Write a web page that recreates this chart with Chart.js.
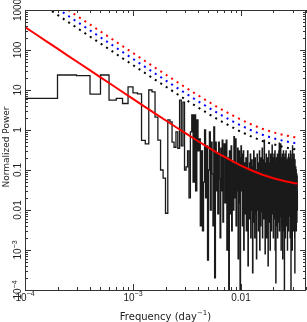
<!DOCTYPE html>
<html><head><meta charset="utf-8">
<script src="https://cdn.jsdelivr.net/npm/chart.js@4"></script>
<style>html,body{margin:0;padding:0;background:#fff;overflow:hidden}#wrap{width:307px;height:322px}canvas{display:block}</style>
</head><body>
<div id="wrap"><canvas id="c" width="307" height="322"></canvas></div>
<script>
// frequency resolution of the periodogram (day^-1); bin k starts at k*binWidth
const binWidth = 1e-4;
// periodogram power, bins k = 1..333
const power = [
6.2, 23.7, 23, 7.9, 23.7, 5.6, 6.2, 4.6, 12, 8.5,
8, 0.55, 0.45, 10, 9, 2.1, 0.56, 0.1, 0.063, 0.0083,
1.8, 1.6, 0.5, 0.37, 0.9, 0.35, 5.6, 0.4, 5, 0.1,
0.12, 0.3, 0.02, 0.9, 2.4, 0.05, 2.4, 0.03, 1.8, 0.3,
0.6, 0.004, 0.3, 0.003, 0.05, 1.0, 0.02, 0.4, 5.6e-4, 0.1,
0.9, 0.01, 0.5, 0.08, 0.004, 1.2, 2e-4, 0.5, 0.03, 0.25,
0.008, 0.5, 0.06, 0.002, 0.35, 0.03, 0.56, 0.005, 0.2, 0.45,
0.015, 0.15, 0.56, 0.001, 0.2, 0.04, 1e-4, 0.3, 0.008, 0.1,
0.4, 0.003, 0.15, 0.05, 0.01, 0.68, 0.02, 0.25, 0.6, 0.004,
0.15, 0.03, 0.35, 6e-4, 0.1, 0.3, 0.015, 1e-4, 0.2, 0.4,
0.03, 0.25, 0.004, 0.08, 0.3, 0.001, 0.05, 0.15, 0.008, 0.02,
0.2, 0.003, 0.06, 0.012, 0.3, 4e-4, 0.04, 0.1, 0.006, 0.15,
0.02, 0.25, 0.002, 0.07, 0.01, 0.18, 0.03, 2.7e-4, 0.12, 0.005,
0.3, 0.015, 0.06, 0.002, 0.2, 0.04, 0.008, 0.1, 6e-4, 0.05,
0.25, 0.01, 0.03, 0.15, 0.003, 0.08, 0.02, 0.3, 0.001, 0.06,
0.12, 0.004, 0.2, 0.025, 0.05, 0.009, 0.35, 0.002, 0.1, 0.015,
0.04, 0.18, 0.006, 0.56, 0.02, 0.07, 8e-4, 0.15, 0.03, 0.01,
0.25, 0.002, 0.05, 0.12, 0.007, 0.2, 0.03, 4e-4, 0.09, 0.015,
0.3, 0.005, 0.06, 0.02, 0.15, 0.001, 0.04, 0.25, 0.01, 0.08,
0.003, 0.18, 0.03, 0.42, 0.008, 0.06, 0.015, 0.2, 0.002, 0.1,
0.04, 0.25, 0.006, 0.12, 0.02, 0.3, 0.001, 0.07, 0.01, 1.5e-4,
0.15, 0.03, 0.2, 0.004, 0.06, 0.012, 0.25, 0.002, 0.08, 0.025,
0.18, 0.005, 0.04, 0.3, 0.01, 0.47, 0.003, 0.09, 0.4, 0.02,
0.12, 0.007, 0.45, 0.03, 0.001, 0.15, 0.05, 0.015, 0.2, 0.004,
0.08, 0.25, 6e-4, 0.04, 0.12, 0.01, 0.3, 0.02, 0.06, 0.003,
0.15, 9e-5, 0.2, 0.008, 0.05, 0.25, 0.002, 0.1, 0.03, 0.012,
0.3, 0.004, 0.06, 0.02, 0.18, 0.006, 0.1, 0.04, 0.001, 0.15,
0.025, 0.2, 0.005, 0.08, 0.003, 0.25, 0.015, 0.12, 0.04, 0.007,
0.2, 0.01, 0.05, 0.15, 0.002, 0.09, 0.3, 0.008, 0.06, 9e-5,
0.12, 0.02, 0.07, 0.004, 0.18, 0.03, 0.25, 0.001, 0.05, 0.4,
0.015, 0.1, 0.006, 0.2, 0.04, 0.003, 0.15, 0.012, 0.08, 0.25,
0.01, 0.05, 0.12, 0.002, 2.7e-4, 0.18, 0.02, 0.09, 0.006, 0.04,
0.12, 0.008, 0.06, 0.1, 0.003, 0.05, 0.015, 0.08, 0.005, 0.04, 0.07, 0.01, 0.03
];
// red-noise model curve (solid red) and significance levels (dotted)
const modelFreq = [1e-4,1.26e-4,1.58e-4,2e-4,2.51e-4,3.16e-4,3.98e-4,5.01e-4,6.31e-4,7.94e-4,1e-3,1.26e-3,1.58e-3,2e-3,2.51e-3,3.16e-3,3.98e-3,5.01e-3,6.31e-3,7.94e-3,0.01,0.0126,0.0158,0.02,0.0251,0.0316,0.0334];
const modelPower = [376,248,164,108,71.6,47.3,31.3,20.7,13.7,9.05,6.0,3.97,2.64,1.75,1.17,0.785,0.53,0.362,0.251,0.178,0.129,0.0974,0.0762,0.0622,0.053,0.0469,0.0458];
const sigRed   = [5264,3472,2296,1512,1002,662,438,290,192,127,84,55.6,37,24.5,16.4,11,7.4,5.07,3.51,2.49,1.81,1.36,1.07,0.87,0.74,0.66,0.64];
const sigBlue  = [3760,2480,1640,1080,716,473,313,207,137,90.5,60,39.7,26.4,17.5,11.7,7.85,5.3,3.62,2.51,1.78,1.29,0.97,0.76,0.62,0.53,0.47,0.46];
const sigBlack = [2632,1736,1148,756,501,331,219,145,96,63,42,27.8,18.5,12.3,8.2,5.5,3.7,2.53,1.76,1.25,0.90,0.68,0.53,0.44,0.37,0.33,0.32];
// axes
const xMin = 1e-4, xMax = 0.04, yMin = 1e-4, yMax = 1000;
const xTickValues = [1e-4, 1e-3, 0.01];
const xTickLabels = ['10^-4', '10^-3', '0.01'];
const yTickValues = [1e-4, 1e-3, 0.01, 0.1, 1, 10, 100, 1000];
const yTickLabels = ['10^-4', '10^-3', '0.01', '0.1', '1', '10', '100', '1000'];
const xTitle = ['Frequency (day', '-1', ')'];
const yTitle = 'Normalized Power';

const histPts = power.map((v, i) => ({x: (i + 1) * binWidth, y: v}));
histPts.push({x: (power.length + 1) * binWidth, y: power[power.length - 1]});
const curve = arr => modelFreq.map((f, i) => ({x: f, y: arr[i]}));

const axisColor = '#333';
const tickFont = '10px "Liberation Sans", Arial, sans-serif';
const supFont = '7px "Liberation Sans", Arial, sans-serif';

function drawExpText(ctx, str, x, y, align) {
  const parts = str.split('^');
  ctx.font = tickFont;
  const wb = ctx.measureText(parts[0]).width;
  let we = 0, exp = '';
  if (parts.length > 1) { exp = parts[1].replace('-', '\u2212'); ctx.font = supFont; we = ctx.measureText(exp).width; }
  const total = wb + we;
  let x0 = align === 'center' ? x - total / 2 : (align === 'right' ? x - total : x);
  ctx.textAlign = 'left';
  ctx.font = tickFont;
  ctx.fillText(parts[0], x0, y);
  if (exp) { ctx.font = supFont; ctx.fillText(exp, x0 + wb, y - 4.5); }
}

const framePlugin = {
  id: 'frame',
  afterDatasetsDraw(chart) {
    const ctx = chart.ctx, a = chart.chartArea;
    const xs = chart.scales.x, ys = chart.scales.y;
    ctx.save();
    ctx.strokeStyle = axisColor; ctx.lineWidth = 1;
    ctx.strokeRect(Math.round(a.left) + 0.5, Math.round(a.top) + 0.5, Math.round(a.right - a.left) - 1, Math.round(a.bottom - a.top));
    ctx.beginPath();
    for (let n = -4; n <= -2; n++) for (let m = 1; m <= 9; m++) {
      const f = m * Math.pow(10, n);
      if (f < xMin * 0.999 || f > xMax * 1.001) continue;
      const px = Math.round(xs.getPixelForValue(f)) + 0.5;
      const len = m === 1 ? 6 : 3;
      ctx.moveTo(px, a.bottom); ctx.lineTo(px, a.bottom - len);
      ctx.moveTo(px, a.top); ctx.lineTo(px, a.top + len);
    }
    for (let n = -4; n <= 3; n++) for (let m = 1; m <= 9; m++) {
      const v = m * Math.pow(10, n);
      if (v < yMin * 0.999 || v > yMax * 1.001) continue;
      const py = Math.round(ys.getPixelForValue(v)) + 0.5;
      const len = m === 1 ? 6 : 3;
      ctx.moveTo(a.left, py); ctx.lineTo(a.left + len, py);
      ctx.moveTo(a.right, py); ctx.lineTo(a.right - len, py);
    }
    ctx.stroke();
    ctx.fillStyle = '#222';
    ctx.textBaseline = 'alphabetic';
    xTickValues.forEach((v, i) => drawExpText(ctx, xTickLabels[i], xs.getPixelForValue(v), a.bottom + 10.5, 'center'));
    yTickValues.forEach((v, i) => {
      ctx.save();
      ctx.translate(a.left - 4, ys.getPixelForValue(v));
      ctx.rotate(-Math.PI / 2);
      drawExpText(ctx, yTickLabels[i], 0, 0, 'center');
      ctx.restore();
    });
    ctx.font = '10px "DejaVu Sans", sans-serif';
    const w1 = ctx.measureText(xTitle[0]).width, w3 = ctx.measureText(xTitle[2]).width;
    ctx.font = '7px "DejaVu Sans", sans-serif';
    const w2 = ctx.measureText(xTitle[1].replace('-', '\u2212')).width;
    const cx = (a.left + a.right) / 2;
    let x0 = cx - (w1 + w2 + w3) / 2;
    ctx.textAlign = 'left';
    ctx.font = '10px "DejaVu Sans", sans-serif';
    ctx.fillText(xTitle[0], x0, 319.5);
    ctx.font = '7px "DejaVu Sans", sans-serif';
    ctx.fillText(xTitle[1].replace('-', '\u2212'), x0 + w1, 315);
    ctx.font = '10px "DejaVu Sans", sans-serif';
    ctx.fillText(xTitle[2], x0 + w1 + w2, 319.5);
    ctx.save();
    ctx.translate(9, (a.top + a.bottom) / 2 - 3);
    ctx.rotate(-Math.PI / 2);
    ctx.textAlign = 'center';
    ctx.font = '9px "DejaVu Sans", sans-serif';
    ctx.fillText(yTitle, 0, 0);
    ctx.restore();
    ctx.restore();
  }
};

new Chart(document.getElementById('c'), {
  type: 'line',
  data: {
    datasets: [
      {data: curve(sigRed), borderColor: '#ff0000', borderWidth: 2, borderDash: [2, 4.5], pointRadius: 0, order: 0},
      {data: curve(sigBlue), borderColor: '#0000ff', borderWidth: 2, borderDash: [2, 4.5], pointRadius: 0, order: 0},
      {data: curve(sigBlack), borderColor: '#000000', borderWidth: 2, borderDash: [2, 4.5], pointRadius: 0, order: 0},
      {data: curve(modelPower), borderColor: '#ff0000', borderWidth: 2, pointRadius: 0, order: 1},
      {data: histPts, borderColor: '#1a1a1a', borderWidth: 1.3, pointRadius: 0, stepped: 'before', order: 3}
    ]
  },
  options: {
    responsive: false, animation: false, devicePixelRatio: 1,
    layout: {padding: {left: 25, right: 1, top: 10, bottom: 32}},
    plugins: {legend: {display: false}, tooltip: {enabled: false}},
    elements: {line: {tension: 0, fill: false}},
    scales: {
      x: {type: 'logarithmic', min: xMin, max: xMax, display: false},
      y: {type: 'logarithmic', min: yMin, max: yMax, display: false}
    }
  },
  plugins: [framePlugin]
});
</script>
</body></html>
